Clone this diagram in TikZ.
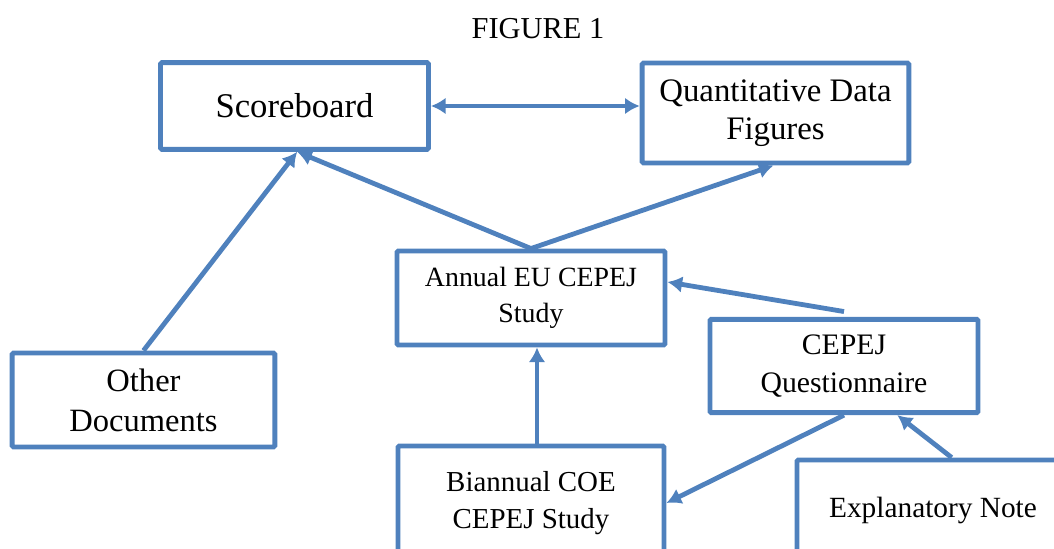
\documentclass[tikz,border=0pt]{standalone}
\usepackage{fontspec}
\setmainfont{Liberation Serif}
\usetikzlibrary{arrows.meta,calc}
\definecolor{boxblue}{HTML}{4F81BD}
\tikzset{
  box/.style={draw=boxblue, line width=3.7pt, rounded corners=1pt, fill=white, align=center, inner sep=0pt},
  conn/.style={draw=boxblue, line width=3.6pt, -{Latex[length=11pt,width=12.5pt]}},
  conn2/.style={draw=boxblue, line width=3.6pt, {Latex[length=11pt,width=12.5pt]}-{Latex[length=11pt,width=12.5pt]}},
}
\newcommand{\fsz}[2]{\fontsize{#1}{#2}\selectfont}
\begin{document}
\begin{tikzpicture}[x=0.75pt,y=-0.75pt]
\useasboundingbox (0,0) rectangle (1054,549);
\node[font=\fsz{22.8}{26}] (title) at (538,29) {FIGURE 1};
\node[box,font=\fsz{26}{30},minimum width=201pt,minimum height=65pt] (sb) at (294.5,106) {Scoreboard};
\node[box,font=\fsz{24.6}{28.5},minimum width=200pt,minimum height=75pt] (qdf) at (775.5,113) {Quantitative Data\\Figures};
\node[box,font=\fsz{20.9}{27.5},minimum width=201pt,minimum height=70.5pt] (an) at (531,298) {Annual EU CEPEJ\\Study};
\node[box,font=\fsz{22.3}{28},minimum width=201pt,minimum height=70pt] (qn) at (844,366) {CEPEJ\\Questionnaire};
\node[box,font=\fsz{24.4}{30},minimum width=197pt,minimum height=70.5pt] (od) at (143.5,400) {Other\\Documents};
\node[box,font=\fsz{21.7}{27.5},minimum width=199.5pt,minimum height=85.5pt] (bi) at (531,503) {Biannual COE\\CEPEJ Study};
\node[box,font=\fsz{22}{26},minimum width=204pt,minimum height=75pt] (en) at (933,510) {Explanatory Note};
\draw[conn2] (sb.east) -- (sb.east -| qdf.west);
\draw[conn] (od.north) -- ([xshift=2pt]sb.south);
\draw[conn] (an.north) -- ([xshift=2pt]sb.south);
\draw[conn] (an.north) -- ([xshift=-1.5pt]qdf.south);
\draw[conn] ([yshift=4pt]qn.north) -- ([yshift=12pt]an.east);
\draw[conn] ([xshift=4.5pt]bi.north) -- ([xshift=4.5pt]an.south);
\draw[conn] (qn.south) -- (bi.east);
\draw[conn] ([xshift=14pt]en.north) -- ([xshift=40pt]qn.south);
\end{tikzpicture}
\end{document}
